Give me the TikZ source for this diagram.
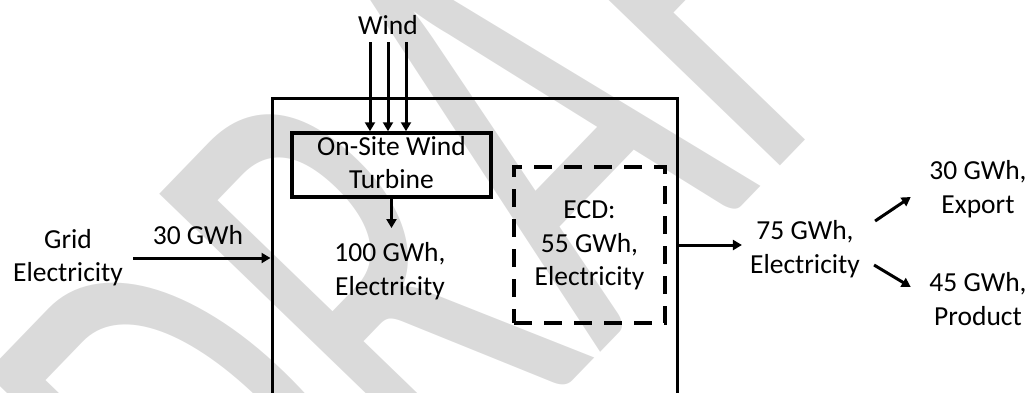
\documentclass[tikz,border=0pt]{standalone}
\usepackage{fontspec}
\usepackage{graphicx}
\setmainfont{Carlito}
\usetikzlibrary{arrows.meta,calc}
\newcommand\ls{\rule[-8pt]{0pt}{30pt}}
\definecolor{wm}{RGB}{218,218,218}
\begin{document}
\begin{tikzpicture}[x=1pt,y=-1pt,
  lbl/.style={align=center,inner sep=0pt,font=\fontsize{27.5}{33.5}\selectfont},
  arr/.style={line width=3pt,-{Triangle[length=9pt,width=10pt]}},
  boxline/.style={draw,line width=3pt}]
\useasboundingbox (0,0) rectangle (1031,392);
\clip (0,0) rectangle (1031,392);
% watermark
\node[anchor=base west,rotate=46,inner sep=0pt,text=wm] (wmk) at (274,690)
  {\scalebox{4.04}[6.65]{\fontsize{100}{100}\selectfont DRAFT}};
% system boundary
\node[boxline,minimum width=405pt,minimum height=330pt,inner sep=0pt] (sys) at (474.5,263) {};
% nodes
\node[lbl] (wind) at (388,27) {Wind\ls};
\node[lbl,draw,line width=3.5pt,minimum width=199pt,minimum height=64pt] (turb) at (391.5,165) {On-Site Wind\ls\\Turbine\ls};
\node[lbl] (grid) at (68,258) {Grid\ls\\Electricity\ls};
\node[lbl] (g30) at (198,237) {30 GWh\ls};
\node[lbl] (e100) at (390,271.5) {100 GWh,\ls\\Electricity\ls};
\node[lbl,draw,line width=3.3pt,dash pattern=on 18pt off 12pt,minimum width=151pt,minimum height=156pt] (ecd) at (589.5,245) {ECD:\ls\\55 GWh,\ls\\Electricity\ls};
\node[lbl] (e75) at (805,249.5) {75 GWh,\ls\\Electricity\ls};
\node[lbl] (e30) at (978,189.5) {30 GWh,\ls\\Export\ls};
\node[lbl] (e45) at (978,301.5) {45 GWh,\ls\\Product\ls};
% wind arrows
\coordinate (wa) at ([xshift=-18pt]wind.south);
\coordinate (wb) at (wind.south);
\coordinate (wc) at ([xshift=18pt]wind.south);
\draw[arr] (wa) -- (wa |- turb.north);
\draw[arr] (wb) -- (wb |- turb.north);
\draw[arr] (wc) -- (wc |- turb.north);
% grid arrow
\coordinate (ga) at ([xshift=10pt]grid.east);
\draw[arr] (ga) -- (ga -| sys.west);
% turbine arrow
\coordinate (tb) at ([yshift=11.5pt]e100.north);
\draw[arr] (turb.south) -- (turb.south |- tb);
% output arrow
\coordinate (oa) at (sys.east |- ecd.east);
\coordinate (ob) at ([xshift=-8pt]e75.west);
\draw[arr] (oa) -- (oa -| ob);
% split arrows
\draw[arr] ([shift={(15,-28.5)}]e75.east) -- ([shift={(-18.5,7.5)}]e30.west);
\draw[arr] ([shift={(14,15.5)}]e75.east) -- ([shift={(-18.5,-14.5)}]e45.west);
\end{tikzpicture}
\end{document}
